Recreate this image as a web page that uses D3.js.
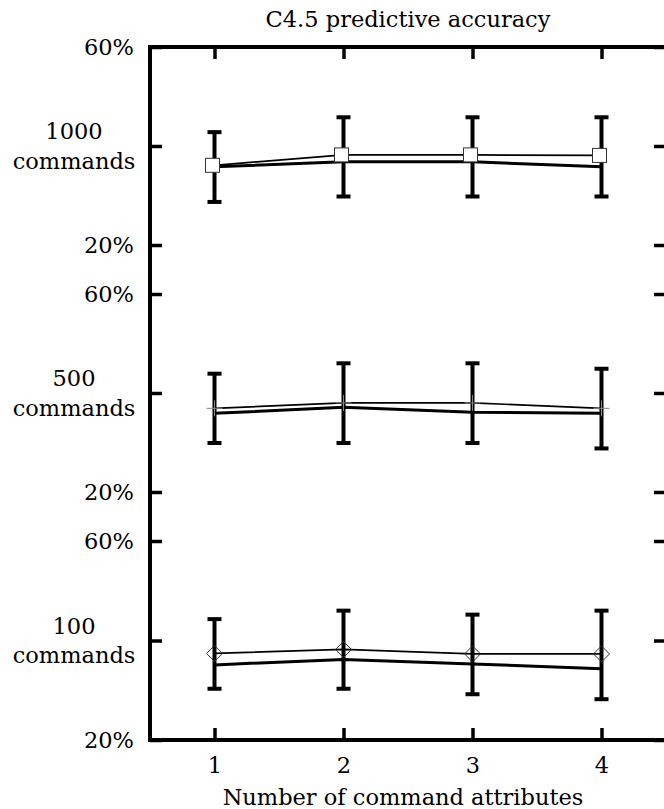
<!DOCTYPE html>
<html>
<head>
<meta charset="utf-8">
<script src="https://cdn.jsdelivr.net/npm/d3@7"></script>
<style>
  html, body { margin: 0; padding: 0; background: #fff; }
  svg { display: block; }
</style>
</head>
<body>
<svg id="chart" width="664" height="809"></svg>
<script>
// ---------- data ----------
const title = "C4.5 predictive accuracy";
const xTitle = "Number of command attributes";
const attributes = [1, 2, 3, 4];
const panelNames = ["1000", "500", "100"];
const panelUnit = "commands";
const yTicks = [20, 40, 60];

// thin series with markers
const line1000 = [36.1, 38.2, 38.2, 38.1];
const line500  = [36.9, 38.0, 38.0, 36.9];
const line100  = [37.4, 38.2, 37.3, 37.3];
// thick series (means)
const mean1000 = [35.8, 36.8, 36.8, 35.8];
const mean500  = [35.9, 37.1, 36.1, 35.9];
const mean100  = [35.1, 36.2, 35.3, 34.3];
// error bar extents
const low1000  = [28.7, 29.8, 29.8, 29.8];
const high1000 = [42.8, 45.8, 45.8, 45.8];
const low500   = [29.9, 29.9, 29.9, 28.8];
const high500  = [43.9, 46.0, 46.0, 44.9];
const low100   = [30.3, 30.3, 29.2, 28.2];
const high100  = [44.3, 46.0, 45.2, 46.0];

const markerTypes = ["square", "plus", "diamond"];

// ---------- layout ----------
const FONT = "DejaVu Serif";
const svg = d3.select("#chart");
const left = 150, right = 666;
const panelTops = [47, 294, 541];
const panelH = 198;
const bottom = panelTops[2] + panelH + 1;
const fontSize = 22.5;

function styleText(sel) {
  return sel.attr("font-family", FONT)
    .attr("font-size", fontSize)
    .attr("fill", "#000");
}

const x = d3.scaleLinear().domain([0.5, 4.5]).range([left, right]);

const panels = [
  {name: panelNames[0], line: line1000, mean: mean1000, lo: low1000, hi: high1000, marker: markerTypes[0]},
  {name: panelNames[1], line: line500,  mean: mean500,  lo: low500,  hi: high500,  marker: markerTypes[1]},
  {name: panelNames[2], line: line100,  mean: mean100,  lo: low100,  hi: high100,  marker: markerTypes[2]}
];

// title
styleText(svg.append("text")
  .attr("x", (left + right) / 2).attr("y", 27)
  .attr("text-anchor", "middle")
  .text(title));

// x axes (bottom with labels, top mirror ticks)
const xb = svg.append("g").attr("transform", `translate(0,${bottom})`)
  .call(d3.axisBottom(x).tickValues(attributes).tickSize(-12).tickPadding(17).tickFormat(d3.format("d")));
const xt = svg.append("g").attr("transform", `translate(0,${panelTops[0]})`)
  .call(d3.axisTop(x).tickValues(attributes).tickSize(-12).tickFormat(""));
[xb, xt].forEach(g => {
  g.select(".domain").remove();
  g.attr("font-family", FONT).attr("font-size", fontSize);
  g.selectAll(".tick line").attr("stroke", "#000").attr("stroke-width", 3.5);
  styleText(g.selectAll("text"));
});

styleText(svg.append("text")
  .attr("x", 403).attr("y", 805)
  .attr("text-anchor", "middle")
  .text(xTitle));

const lineGen = d3.line();

panels.forEach((p, i) => {
  const top = panelTops[i];
  const bot = i === 2 ? bottom : top + panelH;
  const y = d3.scaleLinear().domain([20, 60]).range([bot, top]);
  const g = svg.append("g");

  // left axis
  const la = g.append("g").attr("transform", `translate(${left},0)`)
    .call(d3.axisLeft(y).tickValues(yTicks).tickSize(-12).tickPadding(16)
      .tickFormat(d => d === 40 ? "" : d + "%"));
  const ra = g.append("g").attr("transform", `translate(${right},0)`)
    .call(d3.axisRight(y).tickValues(yTicks).tickSize(-12).tickFormat(""));
  [la, ra].forEach(a => {
    a.select(".domain").remove();
    a.attr("font-family", FONT).attr("font-size", fontSize);
    a.selectAll(".tick line").attr("stroke", "#000").attr("stroke-width", 3.5);
    styleText(a.selectAll("text"));
  });

  // two-line panel label
  const lbl = styleText(g.append("text")
    .attr("x", 74).attr("y", y(40))
    .attr("text-anchor", "middle"));
  lbl.append("tspan").attr("x", 74).attr("dy", "-0.3em").text(p.name);
  lbl.append("tspan").attr("x", 74).attr("dy", "1.32em").text(panelUnit);

  // thick mean line
  g.append("path")
    .attr("d", lineGen(attributes.map((a, k) => [x(a), y(p.mean[k])])))
    .attr("fill", "none").attr("stroke", "#000").attr("stroke-width", 3);

  // error bars
  attributes.forEach((a, k) => {
    const cx = x(a);
    g.append("line").attr("x1", cx).attr("x2", cx)
      .attr("y1", y(p.lo[k])).attr("y2", y(p.hi[k]))
      .attr("stroke", "#000").attr("stroke-width", 4);
    [p.lo[k], p.hi[k]].forEach(v => {
      g.append("line").attr("x1", cx - 7).attr("x2", cx + 7)
        .attr("y1", y(v)).attr("y2", y(v))
        .attr("stroke", "#000").attr("stroke-width", 4);
    });
  });

  // thin marked line
  g.append("path")
    .attr("d", lineGen(attributes.map((a, k) => [x(a), y(p.line[k])])))
    .attr("fill", "none").attr("stroke", "#000").attr("stroke-width", 1.7);

  // markers
  attributes.forEach((a, k) => {
    const cx = x(a) - (p.marker === "square" ? 2 : 0), cy = y(p.line[k]);
    if (p.marker === "square") {
      g.append("rect").attr("x", cx - 7).attr("y", cy - 7).attr("width", 14).attr("height", 14)
        .attr("fill", "#fff").attr("stroke", "#333").attr("stroke-width", 1);
    } else if (p.marker === "diamond") {
      g.append("path").attr("d", `M${cx},${cy - 8}L${cx + 8},${cy}L${cx},${cy + 8}L${cx - 8},${cy}Z`)
        .attr("fill", "none").attr("stroke", "#333").attr("stroke-width", 1);
    } else {
      g.append("path").attr("d", `M${cx - 8},${cy}H${cx + 8}M${cx},${cy - 8}V${cy + 8}`)
        .attr("fill", "none").attr("stroke", "#888").attr("stroke-width", 1);
    }
  });
});

// frame
svg.append("rect")
  .attr("x", left).attr("y", panelTops[0])
  .attr("width", right - left).attr("height", bottom - panelTops[0])
  .attr("fill", "none").attr("stroke", "#000").attr("stroke-width", 4);
</script>
</body>
</html>
